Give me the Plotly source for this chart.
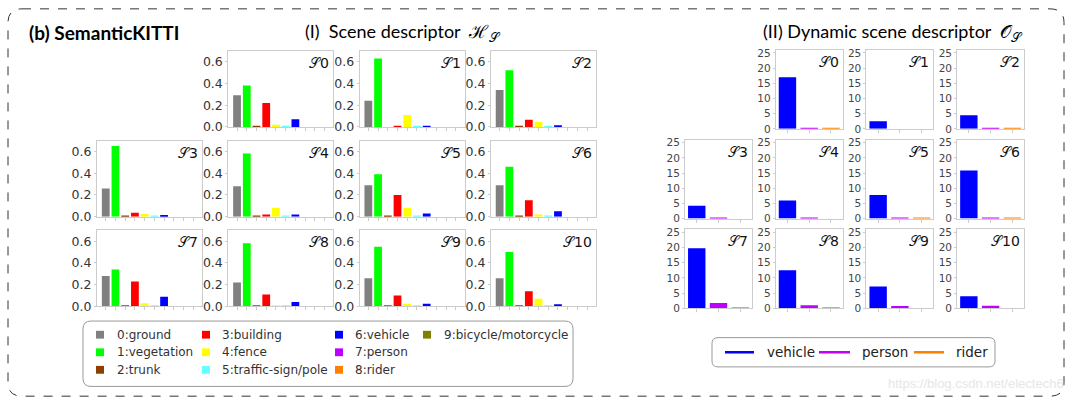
import plotly.graph_objects as go

W, H = 1072, 410

# ---------------- data ----------------
classes = ["0:ground", "1:vegetation", "2:trunk", "3:building", "4:fence",
           "5:traffic-sign/pole", "6:vehicle", "7:person", "8:rider", "9:bicycle/motorcycle"]
class_colors = ["#808080", "#00ff00", "#8b4000", "#ff0000", "#ffff00",
                "#66ffff", "#0000ff", "#bf00ff", "#ff8000", "#808000"]
scene_names = ["0", "1", "2", "3", "4", "5", "6", "7", "8", "9", "10"]

hs_s0 = [0.29, 0.38, 0.010, 0.22, 0.020, 0.004, 0.07, 0, 0, 0]
hs_s1 = [0.24, 0.63, 0.000, 0.005, 0.110, 0.004, 0.005, 0, 0, 0]
hs_s2 = [0.34, 0.52, 0.010, 0.065, 0.045, 0.004, 0.015, 0, 0, 0]
hs_s3 = [0.26, 0.65, 0.005, 0.035, 0.025, 0.004, 0.015, 0, 0, 0]
hs_s4 = [0.28, 0.58, 0.005, 0.020, 0.080, 0.004, 0.020, 0, 0, 0]
hs_s5 = [0.29, 0.39, 0.005, 0.200, 0.080, 0.003, 0.030, 0, 0, 0]
hs_s6 = [0.29, 0.46, 0.005, 0.150, 0.020, 0.008, 0.050, 0, 0, 0]
hs_s7 = [0.28, 0.34, 0.010, 0.230, 0.030, 0.004, 0.090, 0, 0, 0]
hs_s8 = [0.22, 0.58, 0.010, 0.110, 0.010, 0.004, 0.040, 0, 0, 0]
hs_s9 = [0.26, 0.55, 0.010, 0.100, 0.025, 0.004, 0.025, 0, 0, 0]
hs_s10 = [0.26, 0.50, 0.005, 0.140, 0.070, 0.008, 0.020, 0, 0, 0]
scene_hists = [hs_s0, hs_s1, hs_s2, hs_s3, hs_s4, hs_s5, hs_s6, hs_s7, hs_s8, hs_s9, hs_s10]
hs_ticks = [0, 0.2, 0.4, 0.6]
hs_ticklabels = ["0.0", "0.2", "0.4", "0.6"]

dyn_classes = ["vehicle", "person", "rider"]
dyn_colors = ["#0000ff", "#bf00ff", "#ff8000"]
dyn_vehicle = [17.0, 2.5, 4.5, 4.2, 6.0, 7.8, 15.8, 19.8, 12.5, 7.2, 4.0]
dyn_person = [0.4, 0.0, 0.15, 0.2, 0.2, 0.4, 0.4, 1.8, 1.0, 0.8, 0.9]
dyn_rider = [0.3, 0.0, 0.15, 0.0, 0.0, 0.1, 0.1, 0.1, 0.4, 0.0, 0.0]
dyn_ticks = [0, 5, 10, 15, 20, 25]

# ---------------- helpers ----------------
def px(x):
    return x / W

def py(y):
    return 1 - y / H

def grid_pos(k):
    if k < 3:
        return 0, k + 1
    if k < 7:
        return 1, k - 3
    return 2, k - 7

def rrect_path(x0, y0, x1, y1, r):
    pts = [
        f"M {px(x0 + r)},{py(y0)}",
        f"L {px(x1 - r)},{py(y0)}",
        f"Q {px(x1)},{py(y0)} {px(x1)},{py(y0 + r)}",
        f"L {px(x1)},{py(y1 - r)}",
        f"Q {px(x1)},{py(y1)} {px(x1 - r)},{py(y1)}",
        f"L {px(x0 + r)},{py(y1)}",
        f"Q {px(x0)},{py(y1)} {px(x0)},{py(y1 - r)}",
        f"L {px(x0)},{py(y0 + r)}",
        f"Q {px(x0)},{py(y0)} {px(x0 + r)},{py(y0)}",
        "Z",
    ]
    return " ".join(pts)

fig = go.Figure()
layout = dict(
    width=W, height=H, margin=dict(l=0, r=0, t=0, b=0),
    paper_bgcolor="white", plot_bgcolor="white", showlegend=False,
    bargap=0.2, hovermode=False,
)
annotations = []
shapes = []

FRAME = "#cccccc"
TICKFONT = "DejaVu Sans"
SCRIPT_S = "\U0001D4AE"

ax = 0
# ---------------- left: scene descriptor ----------------
for k, vals in enumerate(scene_hists):
    ax += 1
    r, c = grid_pos(k)
    x0 = 97 + 131.3 * c
    x1 = x0 + 105
    yt = 49 + 92 * r
    yb = yt + 78
    xa = "x" if ax == 1 else f"x{ax}"
    ya = "y" if ax == 1 else f"y{ax}"
    fig.add_trace(go.Bar(
        x=list(range(len(classes))), y=vals, width=0.8,
        marker=dict(color=class_colors, line=dict(width=0)),
        xaxis=xa, yaxis=ya,
    ))
    layout["xaxis" if ax == 1 else f"xaxis{ax}"] = dict(
        domain=[px(x0), px(x1)], anchor=ya, range=[-0.9, 9.9],
        tickvals=list(range(len(classes))), showticklabels=False,
        ticks="outside", ticklen=3, tickcolor=FRAME, tickwidth=1,
        showline=True, mirror=True, linecolor=FRAME, linewidth=1,
        showgrid=False, zeroline=False, fixedrange=True,
    )
    layout["yaxis" if ax == 1 else f"yaxis{ax}"] = dict(
        domain=[py(yb), py(yt)], anchor=xa, range=[0, 0.7],
        tickvals=hs_ticks, ticktext=hs_ticklabels,
        tickfont=dict(family=TICKFONT, size=12.5, color="#333333"),
        ticks="outside", ticklen=2, tickcolor=FRAME,
        showline=True, mirror=True, linecolor=FRAME, linewidth=1,
        showgrid=False, zeroline=False, fixedrange=True,
    )
    annotations.append(dict(
        x=px(x1 - 2), y=py(yt + 2), xref="paper", yref="paper",
        xanchor="right", yanchor="top", showarrow=False,
        text=SCRIPT_S + scene_names[k],
        font=dict(family="DejaVu Sans", size=14, color="#111111"),
    ))

# ---------------- right: dynamic scene descriptor ----------------
for k in range(len(scene_names)):
    ax += 1
    r, c = grid_pos(k)
    x0 = 685 + 90.7 * c
    x1 = x0 + 67
    yt = 48 + 92 * r
    yb = yt + 81
    xa = f"x{ax}"
    ya = f"y{ax}"
    vals = [dyn_vehicle[k], dyn_person[k], dyn_rider[k]]
    fig.add_trace(go.Bar(
        x=list(range(len(dyn_classes))), y=vals, width=0.8,
        marker=dict(color=dyn_colors, line=dict(width=0)),
        xaxis=xa, yaxis=ya,
    ))
    layout[f"xaxis{ax}"] = dict(
        domain=[px(x0), px(x1)], anchor=ya, range=[-0.54, 2.54],
        tickvals=list(range(len(dyn_classes))), showticklabels=False,
        ticks="outside", ticklen=3, tickcolor=FRAME, tickwidth=1,
        showline=True, mirror=True, linecolor=FRAME, linewidth=1,
        showgrid=False, zeroline=False, fixedrange=True,
    )
    layout[f"yaxis{ax}"] = dict(
        domain=[py(yb), py(yt)], anchor=xa, range=[0, 26],
        tickvals=dyn_ticks,
        tickfont=dict(family=TICKFONT, size=10.5, color="#444444"),
        ticks="outside", ticklen=2, tickcolor=FRAME,
        showline=True, mirror=True, linecolor=FRAME, linewidth=1,
        showgrid=False, zeroline=False, fixedrange=True,
    )
    annotations.append(dict(
        x=px(x1 - 2), y=py(yt + 2), xref="paper", yref="paper",
        xanchor="right", yanchor="top", showarrow=False,
        text=SCRIPT_S + scene_names[k],
        font=dict(family="DejaVu Sans", size=14, color="#111111"),
    ))

# ---------------- titles ----------------
annotations.append(dict(
    x=px(27), y=py(30), xref="paper", yref="paper", xanchor="left", yanchor="middle",
    showarrow=False, text="<b>(b) SemanticKITTI</b>",
    font=dict(family="Lato", size=19, color="#000000"),
))
annotations.append(dict(
    x=px(303), y=py(30), xref="paper", yref="paper", xanchor="left", yanchor="middle",
    showarrow=False,
    text="(I)  Scene descriptor  \u210B<sub>" + SCRIPT_S + "</sub>",
    font=dict(family="Lato", size=18, color="#000000"),
))
annotations.append(dict(
    x=px(761), y=py(30), xref="paper", yref="paper", xanchor="left", yanchor="middle",
    showarrow=False,
    text="(II) Dynamic scene descriptor  \U0001D4AA<sub>" + SCRIPT_S + "</sub>",
    font=dict(family="Lato", size=18, color="#000000"),
))

# ---------------- outer dashed frame ----------------
shapes.append(dict(
    type="path", xref="paper", yref="paper",
    path=rrect_path(8, 6, 1064, 403, 14),
    line=dict(color="#333333", width=1, dash="dash"), fillcolor="rgba(0,0,0,0)",
))

# ---------------- left legend (class colours) ----------------
shapes.append(dict(
    type="path", xref="paper", yref="paper",
    path=rrect_path(83, 326, 573, 393, 8),
    line=dict(color="#999999", width=1), fillcolor="rgba(0,0,0,0)",
))
col_marker_x = [100, 206, 339, 427]
col_text_x = [115, 220, 353, 442]
row_y = [340, 358, 376]
for i, (name, color) in enumerate(zip(classes, class_colors)):
    c, r = divmod(i, 3)
    mx, my = col_marker_x[c], row_y[r]
    shapes.append(dict(
        type="rect", xref="paper", yref="paper",
        x0=px(mx - 4), x1=px(mx + 4), y0=py(my + 4), y1=py(my - 4),
        line=dict(width=0), fillcolor=color,
    ))
    annotations.append(dict(
        x=px(col_text_x[c]), y=py(my), xref="paper", yref="paper",
        xanchor="left", yanchor="middle", showarrow=False, text=name,
        font=dict(family="DejaVu Sans", size=12, color="#333333"),
    ))

# ---------------- right legend (dynamic classes) ----------------
shapes.append(dict(
    type="path", xref="paper", yref="paper",
    path=rrect_path(712, 343, 995, 373, 6),
    line=dict(color="#999999", width=1), fillcolor="rgba(0,0,0,0)",
))
line_x = [(725, 754), (819, 850), (914, 944)]
text_x = [765, 860, 954]
for (lx0, lx1), tx, name, color in zip(line_x, text_x, dyn_classes, dyn_colors):
    shapes.append(dict(
        type="line", xref="paper", yref="paper",
        x0=px(lx0), x1=px(lx1), y0=py(358), y1=py(358),
        line=dict(color=color, width=2.5),
    ))
    annotations.append(dict(
        x=px(tx), y=py(358), xref="paper", yref="paper",
        xanchor="left", yanchor="middle", showarrow=False, text=name,
        font=dict(family="DejaVu Sans", size=13.5, color="#222222"),
    ))

# watermark
annotations.append(dict(
    x=px(1066), y=py(390), xref="paper", yref="paper",
    xanchor="right", yanchor="middle", showarrow=False,
    text="https://blog.csdn.net/electech6",
    font=dict(family="Liberation Sans", size=13, color="#e6e6e6"),
))

layout["annotations"] = annotations
layout["shapes"] = shapes
fig.update_layout(**layout)
fig.write_html("out.html")
